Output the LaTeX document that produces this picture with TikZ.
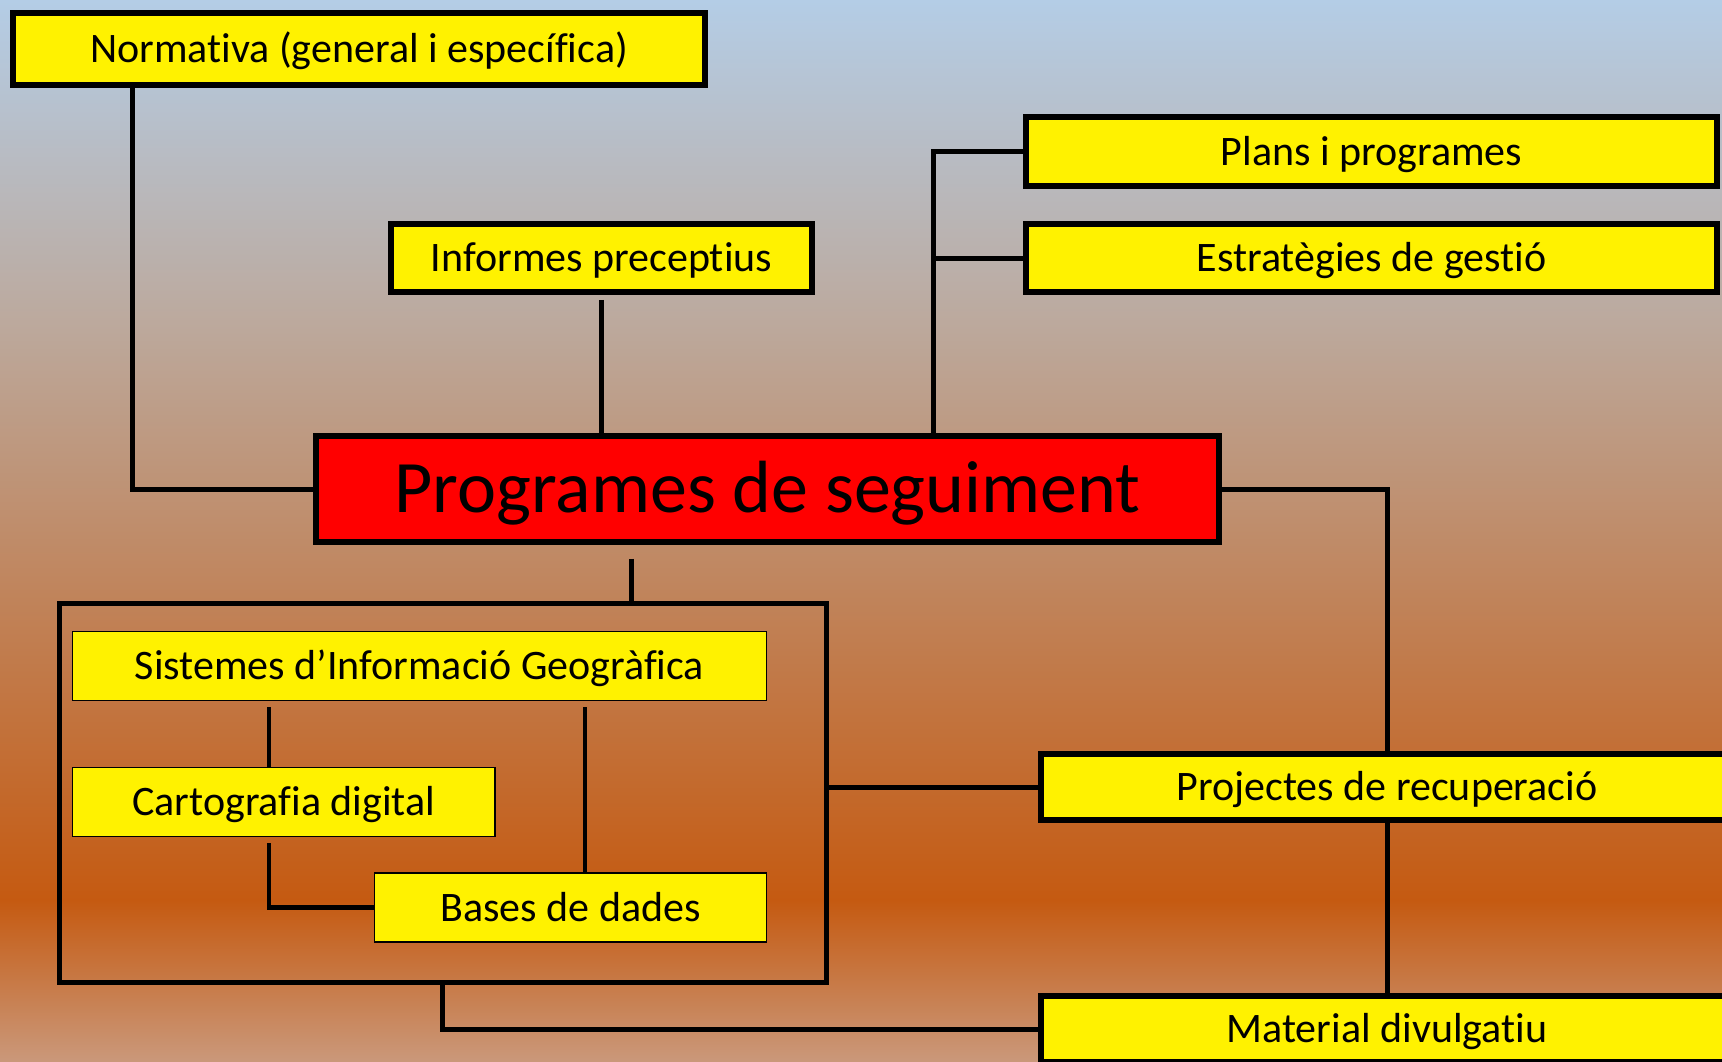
\documentclass[tikz,border=0pt]{standalone}
\usepackage{fontspec}
\setmainfont[Ligatures=NoCommon,RawFeature={-liga;-clig;-calt}]{Carlito}
\definecolor{fonsA}{RGB}{180,205,230}
\definecolor{fonsB}{RGB}{188,168,155}
\definecolor{fonsC}{RGB}{197,90,17}
\definecolor{fonsD}{RGB}{202,152,122}
\begin{document}
\begin{tikzpicture}[x=1pt,y=1pt,yscale=-1,xscale=1,
  caixa/.style={draw=black,line width=5.5pt,fill=yellow,inner sep=0pt,
    font=\fontsize{42pt}{50pt}\selectfont,text height=27pt,text depth=0pt},
  caixafina/.style={caixa,line width=1.8pt},
  enllac/.style={draw=black,line width=5pt},
  enllacfi/.style={draw=black,line width=4.5pt}]

\useasboundingbox (0,0) rectangle (1722,1061);
\clip (0,0) rectangle (1722,1061);

%Background gradient
\shade[top color=fonsA,bottom color=fonsB] (0,0) rectangle (1722,331);
\shade[top color=fonsB,bottom color=fonsC] (0,330) rectangle (1722,901);
\shade[top color=fonsC,bottom color=fonsD] (0,900) rectangle (1722,1061);

%Main node
\node [caixa,fill=red,minimum width=903,minimum height=106,
  font=\fontsize{74pt}{84pt}\selectfont,text height=47pt] (seguiment) at (767.5,489) {Programes de seguiment};

%Upper nodes
\node [caixa,minimum width=692,minimum height=72] (normativa) at (359,49) {Normativa (general i específica)};
\node [caixa,minimum width=421,minimum height=68] (informes) at (601.5,258) {Informes preceptius};
\node [caixa,minimum width=691,minimum height=69] (plans) at (1371.5,151.5) {Plans i programes};
\node [caixa,minimum width=691,minimum height=68] (estrategies) at (1371.5,258) {Estratègies de gestió};

%Right nodes
\node [caixa,minimum width=692,minimum height=66] (projectes) at (1387,787) {Projectes de recuperació};
\node [caixa,minimum width=692,minimum height=66] (material) at (1387,1029) {Material divulgatiu};

%Frame and inner nodes
\node [draw=black,line width=5pt,inner sep=0pt,minimum width=767,minimum height=379] (eines) at (442.5,792.5) {};
\node [caixafina,minimum width=694,minimum height=69] (sig) at (419.5,666) {Sistemes d’Informació Geogràfica};
\node [caixafina,minimum width=422.5,minimum height=69] (cartografia) at (283.75,802) {Cartografia digital};
\node [caixafina,minimum width=392,minimum height=69] (bases) at (570.5,907.5) {Bases de dades};

\coordinate (xnorm) at (132,0);
\coordinate (xgest) at (933.5,0);
\coordinate (xeines) at (631,0);
\coordinate (xcart) at (269,0);
\coordinate (xbases) at (585,0);

%Straight Lines
\draw [enllac] (seguiment.west) -| (xnorm |- normativa.south);
\draw [enllac,shorten <=5pt] (informes.south) -- (informes.south |- seguiment.north);
\draw [enllac] (plans.west) -| (xgest |- seguiment.north);
\draw [enllac] (estrategies.west) -- (xgest |- estrategies.west);
\draw [enllac] (seguiment.east) -| (projectes.north);
\draw [enllac] (projectes.south) -- (material.north);
\draw [enllac,shorten <=14pt] (xeines |- seguiment.south) -- (xeines |- eines.north);
\draw [enllac] (eines.east |- projectes.west) -- (projectes.west);
\draw [enllac] (eines.south) |- (material.west);

%Inner lines
\draw [enllacfi,shorten <=6pt] (xcart |- sig.south) -- (xcart |- cartografia.north);
\draw [enllacfi,shorten <=6pt] (xcart |- cartografia.south) |- (bases.west);
\draw [enllacfi,shorten <=6pt] (xbases |- sig.south) -- (xbases |- bases.north);

\end{tikzpicture}
\end{document}
